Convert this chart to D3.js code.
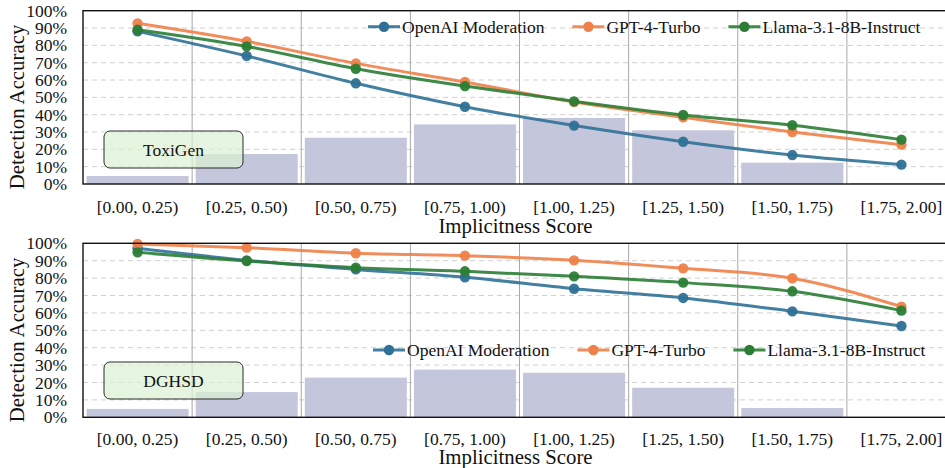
<!DOCTYPE html>
<html><head><meta charset="utf-8">
<script src="https://cdn.jsdelivr.net/npm/d3@7"></script>
<style>body{margin:0;background:#fff}svg{display:block;font-family:"Liberation Serif","Times New Roman",serif}</style>
</head><body><svg id="c" width="945" height="468"></svg>
<script>
const categories = ["[0.00, 0.25)","[0.25, 0.50)","[0.50, 0.75)","[0.75, 1.00)","[1.00, 1.25)","[1.25, 1.50)","[1.50, 1.75)","[1.75, 2.00]"];
const seriesNames = ["OpenAI Moderation","GPT-4-Turbo","Llama-3.1-8B-Instruct"];
const seriesColors = ["#2f7196","#ee8149","#2b7d35"];
const yTicks = [0,10,20,30,40,50,60,70,80,90,100];

const toxigenBars   = [4.6,17.3,26.7,34.4,38.1,31.0,12.3,0.6];
const toxigenOpenAI = [88.1,73.9,58.1,44.6,33.7,24.4,16.7,11.2];
const toxigenGPT    = [92.7,82.3,69.6,58.9,47.3,38.5,30.0,22.7];
const toxigenLlama  = [89.0,79.4,66.5,56.5,47.7,39.8,33.9,25.6];

const dghsdBars   = [4.8,14.5,22.8,27.4,25.6,17.0,5.3,0];
const dghsdOpenAI = [97.1,90.2,85.0,80.5,73.9,68.6,60.9,52.5];
const dghsdGPT    = [99.6,97.5,94.3,92.9,90.2,85.6,79.9,63.6];
const dghsdLlama  = [94.8,89.8,86.0,83.9,81.0,77.4,72.4,61.3];

const panels = [
  {name:"ToxiGen", bars:toxigenBars, lines:[toxigenOpenAI,toxigenGPT,toxigenLlama], top:10.7, bottom:184, legendY:26.7, legendX:368, xTickY:213, titleY:233, yLabelY:107, boxY:131},
  {name:"DGHSD", bars:dghsdBars, lines:[dghsdOpenAI,dghsdGPT,dghsdLlama], top:243.3, bottom:417.3, legendY:350, legendX:373, xTickY:445, titleY:464, yLabelY:340, boxY:362}
];

const svg = d3.select("#c");
const left = 83, right = 956;
const x = d3.scaleBand().domain(categories).range([left,right]).padding(0);
const fs = 17.5;

panels.forEach(p => {
  const y = d3.scaleLinear().domain([0,100]).range([p.bottom,p.top]);
  const g = svg.append("g");
  // horizontal dashed grid
  g.selectAll("line.h").data(yTicks.filter(t=>t>0&&t<100)).join("line")
    .attr("x1",left).attr("x2",right).attr("y1",d=>y(d)).attr("y2",d=>y(d))
    .attr("stroke","#d0d0d0").attr("stroke-width",1).attr("stroke-dasharray","5,4");
  // vertical boundary lines
  g.selectAll("line.v").data(categories.slice(1)).join("line")
    .attr("x1",d=>x(d)).attr("x2",d=>x(d)).attr("y1",p.top).attr("y2",p.bottom)
    .attr("stroke","#a8a8a8").attr("stroke-width",1);
  // bars
  const bw = x.bandwidth()*0.935;
  g.selectAll("rect.bar").data(p.bars).join("rect")
    .attr("x",(d,i)=>x(categories[i])+(x.bandwidth()-bw)/2)
    .attr("width",bw)
    .attr("y",d=>y(d)).attr("height",d=>y(0)-y(d))
    .attr("fill","#c4c6dc");
  // dataset label box
  g.append("rect").attr("x",104).attr("y",p.boxY).attr("width",139).attr("height",37).attr("rx",6)
    .attr("fill","#dcf1d2").attr("fill-opacity",0.7).attr("stroke","#2a2a2a").attr("stroke-width",1);
  g.append("text").attr("x",173.5).attr("y",p.boxY+18.5).attr("dy","0.35em").attr("text-anchor","middle")
    .attr("font-size",fs).attr("fill","#111").text(p.name);
  // lines
  const line = d3.line().x((d,i)=>x(categories[i])+x.bandwidth()/2).y(d=>y(d)).curve(d3.curveMonotoneX);
  p.lines.forEach((vals,si) => {
    g.append("path").datum(vals).attr("d",line).attr("fill","none")
      .attr("stroke",seriesColors[si]).attr("stroke-width",3).attr("stroke-opacity",0.9);
    g.selectAll("circle.s"+si).data(vals).join("circle")
      .attr("cx",(d,i)=>x(categories[i])+x.bandwidth()/2).attr("cy",d=>y(d)).attr("r",5.2)
      .attr("fill",seriesColors[si]).attr("fill-opacity",0.95);
  });
  // frame
  g.append("rect").attr("x",left).attr("y",p.top).attr("width",right-left).attr("height",p.bottom-p.top)
    .attr("fill","none").attr("stroke","#111").attr("stroke-width",1.4);
  // y axis tick labels
  g.selectAll("text.yt").data(yTicks).join("text")
    .attr("x",67).attr("y",d=>y(d)).attr("dy","0.35em").attr("text-anchor","end")
    .attr("font-size",fs).attr("fill","#111").text(d=>d+"%");
  // x tick labels
  g.selectAll("text.xt").data(categories).join("text")
    .attr("x",d=>x(d)+x.bandwidth()/2).attr("y",p.xTickY).attr("text-anchor","middle")
    .attr("font-size",fs).attr("fill","#111").text(d=>d);
  // axis titles
  g.append("text").attr("x",(left+right)/2-4).attr("y",p.titleY).attr("text-anchor","middle")
    .attr("font-size",20.8).attr("fill","#111").text("Implicitness Score");
  g.append("text").attr("transform",`translate(24,${p.yLabelY}) rotate(-90)`).attr("text-anchor","middle")
    .attr("font-size",20.8).attr("fill","#111").text("Detection Accuracy");
  // legend
  let lx = p.legendX;
  seriesNames.forEach((n,si)=>{
    const lg = g.append("g");
    lg.append("line").attr("x1",lx).attr("x2",lx+32).attr("y1",p.legendY).attr("y2",p.legendY)
      .attr("stroke",seriesColors[si]).attr("stroke-width",3).attr("stroke-opacity",0.9);
    lg.append("circle").attr("cx",lx+16).attr("cy",p.legendY).attr("r",5.2).attr("fill",seriesColors[si]);
    const t = lg.append("text").attr("x",lx+34).attr("y",p.legendY).attr("dy","0.35em")
      .attr("font-size",fs).attr("fill","#111").text(n);
    lx = lx + 34 + t.node().getComputedTextLength() + 28;
  });
});
</script></body></html>
